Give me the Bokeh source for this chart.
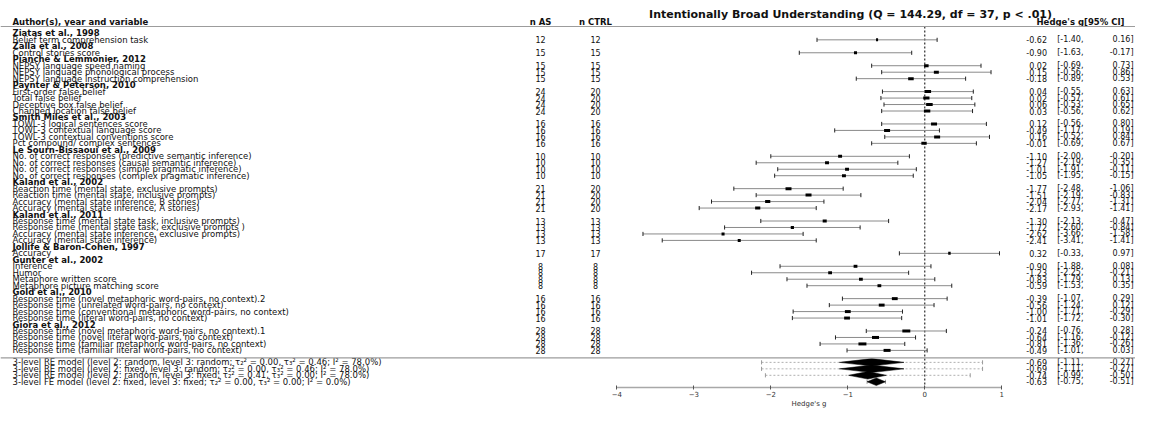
import math
from bokeh.plotting import figure
from bokeh.models import Range1d, FixedTicker, Span, ColumnDataSource
from bokeh.core.properties import value
from bokeh.embed import file_html
from bokeh.resources import INLINE

# ---------------- data ----------------
study_names = ["Ziatas et al., 1998", "Zalla et al., 2008", "Pianche & Lemmonier, 2012",
               "Paynter & Peterson, 2010", "Smith Miles et al., 2003",
               "Le Sourn-Bissaoui et al., 2009", "Kaland et al., 2002", "Kaland et al., 2011",
               "Jollife & Baron-Cohen, 1997", "Gunter et al., 2002", "Gold et al., 2010",
               "Giora et al., 2012"]
outcomes_per_study = [1, 1, 3, 4, 4, 4, 4, 4, 1, 4, 4, 4]

outcome_labels = [
    "Belief term comprehension task",
    "Control stories score",
    "NEPSY  language speed naming",
    "NEPSY  language phonological process",
    "NEPSY  language instruction comprehension",
    "First-order false belief",
    "Total false belief",
    "Deceptive box false belief",
    "Changed location false belief",
    "TOWL-3 logical sentences score",
    "TOWL-3 contextual language score",
    "TOWL-3 contextual conventions score",
    "Pct compound/ complex sentences",
    "No. of correct responses (predictive semantic inference)",
    "No. of correct responses (causal semantic inference)",
    "No. of correct responses (simple pragmatic inference)",
    "No. of correct responses (complex pragmatic inference)",
    "Reaction time (mental state, exclusive prompts)",
    "Reaction time (mental state, inclusive prompts)",
    "Accuracy (mental state inference, B stories)",
    "Accuracy (mental state inference, A stories)",
    "Response time (mental state task, inclusive prompts)",
    "Response time (mental state task, exclusive prompts )",
    "Accuracy (mental state inference, exclusive prompts)",
    "Accuracy (mental state inference)",
    "Accuracy",
    "Inference",
    "Humor",
    "Metaphore written score",
    "Metaphore picture matching score",
    "Response time (novel metaphoric word-pairs, no context).2",
    "Response time (unrelated word-pairs, no context)",
    "Response time (conventional metaphoric word-pairs, no context)",
    "Response time (literal word-pairs, no context)",
    "Response time (novel metaphoric word-pairs, no context).1",
    "Response time (novel literal word-pairs, no context)",
    "Response time (familiar metaphoric word-pairs, no context)",
    "Response time (familiar literal word-pairs, no context)",
]
n_as = [12, 15, 15, 15, 15, 24, 24, 24, 24, 16, 16, 16, 16, 10, 10, 10, 10,
        21, 21, 21, 21, 13, 13, 13, 13, 17, 8, 8, 8, 8, 16, 16, 16, 16, 28, 28, 28, 28]
n_ctrl = [12, 15, 15, 15, 15, 20, 20, 20, 20, 16, 16, 16, 16, 10, 10, 10, 10,
          20, 20, 20, 20, 13, 13, 13, 13, 17, 8, 8, 8, 8, 16, 16, 16, 16, 28, 28, 28, 28]
g_est = [-0.62, -0.90, 0.02, 0.15, -0.18, 0.04, 0.02, 0.06, 0.03, 0.12, -0.49, 0.16, -0.01,
         -1.10, -1.27, -1.01, -1.05, -1.77, -1.51, -2.04, -2.17, -1.30, -1.72, -2.62, -2.41,
         0.32, -0.90, -1.23, -0.83, -0.59, -0.39, -0.56, -1.00, -1.01, -0.24, -0.64, -0.81, -0.49]
ci_lo = [-1.40, -1.63, -0.69, -0.56, -0.89, -0.55, -0.57, -0.53, -0.56, -0.56, -1.17, -0.52, -0.69,
         -2.00, -2.19, -1.91, -1.95, -2.48, -2.19, -2.77, -2.93, -2.13, -2.60, -3.66, -3.41,
         -0.33, -1.88, -2.25, -1.79, -1.53, -1.07, -1.24, -1.71, -1.72, -0.76, -1.16, -1.36, -1.01]
ci_hi = [0.16, -0.17, 0.73, 0.86, 0.53, 0.63, 0.61, 0.65, 0.62, 0.80, 0.19, 0.84, 0.67,
         -0.20, -0.35, -0.11, -0.15, -1.06, -0.83, -1.31, -1.41, -0.47, -0.84, -1.58, -1.41,
         0.97, 0.08, -0.21, 0.13, 0.35, 0.29, 0.12, -0.29, -0.30, 0.28, -0.12, -0.26, 0.03]
weights = [0.4, 0.9, 2.0, 2.4, 3.0, 4.0, 3.8, 4.2, 4.0, 3.5, 3.5, 3.5, 2.8,
           1.5, 1.5, 1.5, 1.5, 3.5, 3.5, 2.6, 2.6, 1.6, 1.0, 0.9, 0.9,
           0.6, 1.4, 1.4, 1.4, 1.4, 3.3, 3.3, 3.3, 3.3, 6.2, 4.8, 6.2, 4.8]

model_labels = [
    "3-level RE model (level 2: random, level 3: random; \u03c4\u2082\u00b2 = 0.00, \u03c4\u2083\u00b2 = 0.46; I\u00b2 = 78.0%)",
    "3-level RE model (level 2: fixed, level 3: random; \u03c4\u2082\u00b2 = 0.00, \u03c4\u2083\u00b2 = 0.46; I\u00b2 = 78.0%)",
    "3-level RE model (level 2: random, level 3: fixed; \u03c4\u2082\u00b2 = 0.41, \u03c4\u2083\u00b2 = 0.00; I\u00b2 = 78.0%)",
    "3-level FE model (level 2: fixed, level 3: fixed; \u03c4\u2082\u00b2 = 0.00, \u03c4\u2083\u00b2 = 0.00; I\u00b2 = 0.0%)",
]
model_est = [-0.69, -0.69, -0.74, -0.63]
model_lo = [-1.11, -1.11, -0.99, -0.75]
model_hi = [-0.27, -0.27, -0.50, -0.51]
pi_lo = [-2.12, -2.12, -2.07, -0.75]
pi_hi = [0.75, 0.75, 0.59, -0.51]

title_text = "Intentionally Broad Understanding (Q = 144.29, df = 37, p < .01)"
x_ticks = [-4, -3, -2, -1, 0, 1]

# ---------------- layout helpers ----------------
FONT = "DejaVu Sans"
W, H = 1135, 408
ROW0, ROWH = 26.4, 6.47      # pixel y of row 0, row pitch
X0, XS = 924.3, 77.0         # pixel x of g = 0, pixels per unit
AXIS_Y = 387                 # pixel y of the x axis line
CAP = 0.32
RSHIFT = 17                  # right annotation block pulled in to fit the width


def gx(px):
    return (px - X0) / XS


def ky(py):
    return (py - ROW0) / ROWH


study_k, out_k = [], []
k = 1
for n in outcomes_per_study:
    study_k.append(k)
    k += 1
    for _ in range(n):
        out_k.append(k)
        k += 1
model_k = [k + 0.85 + i for i in range(len(model_labels))]
sep_k = k + 0.14

p = figure(width=W, height=H, output_backend="svg", toolbar_location=None,
           x_range=Range1d(gx(0), gx(W)),
           y_range=Range1d(ky(H), ky(0)),
           y_axis_location=None, min_border=0,
           min_border_left=0, min_border_right=0, min_border_top=0, min_border_bottom=0)
p.outline_line_color = None
p.xgrid.visible = False
p.ygrid.visible = False
p.background_fill_color = "white"
p.border_fill_color = "white"

ax = p.xaxis[0]
ax.fixed_location = ky(AXIS_Y)
ax.ticker = FixedTicker(ticks=x_ticks)
ax.bounds = (x_ticks[0], x_ticks[-1])
ax.axis_line_color = "#a8a8a8"
ax.axis_line_width = 1.5
ax.major_tick_line_color = "#555555"
ax.major_tick_in = 2
ax.major_tick_out = 2
ax.minor_tick_line_color = None
ax.major_label_text_font = FONT
ax.major_label_text_font_size = "7px"
ax.major_label_text_color = "#333333"
ax.major_label_standoff = 1
ax.axis_label = "Hedge's g"
ax.axis_label_text_font = FONT
ax.axis_label_text_font_size = "7px"
ax.axis_label_text_font_style = "normal"
ax.axis_label_text_color = "#333333"
ax.axis_label_standoff = 0

# separators and zero line
p.add_layout(Span(location=-0.06, dimension="width", line_color="#9c9c9c", line_width=1.2))
p.add_layout(Span(location=sep_k, dimension="width", line_color="#9c9c9c", line_width=1.2))
p.segment(x0=[0], y0=[-0.06], x1=[0], y1=[ky(AXIS_Y)], line_color="black",
          line_width=1, line_dash="2 2")

# study rows
src = ColumnDataSource(dict(y=out_k, est=g_est, lo=ci_lo, hi=ci_hi,
                            yb=[v - CAP for v in out_k], yt=[v + CAP for v in out_k],
                            bw=[3.2 * math.sqrt(w) for w in weights]))
p.segment(x0="lo", y0="y", x1="hi", y1="y", source=src, line_color="#8a8a8a", line_width=1)
p.segment(x0="lo", y0="yb", x1="lo", y1="yt", source=src, line_color="#222222", line_width=1)
p.segment(x0="hi", y0="yb", x1="hi", y1="yt", source=src, line_color="#222222", line_width=1)
p.rect(x="est", y="y", width="bw", height=3, width_units="screen", height_units="screen",
       source=src, fill_color="black", line_color=None)

# model rows: prediction intervals and diamonds
msrc = ColumnDataSource(dict(y=model_k, plo=pi_lo, phi=pi_hi,
                             yb=[v - CAP for v in model_k], yt=[v + CAP for v in model_k]))
p.segment(x0="plo", y0="y", x1="phi", y1="y", source=msrc, line_color="#b0b0b0",
          line_width=1, line_dash="2 2")
p.segment(x0="plo", y0="yb", x1="plo", y1="yt", source=msrc, line_color="#9a9a9a", line_width=1)
p.segment(x0="phi", y0="yb", x1="phi", y1="yt", source=msrc, line_color="#9a9a9a", line_width=1)
dh = 0.58
p.patches(xs=[[lo, e, hi, e] for lo, e, hi in zip(model_lo, model_est, model_hi)],
          ys=[[y, y - dh, y, y + dh] for y in model_k],
          fill_color="black", line_color="black", line_width=0.5)

# ---------------- texts ----------------
LBL = "8.5px"
common = dict(text_font=value(FONT), text_baseline="middle", text_color="#111111")
# title and header
p.text(x=[gx(850)], y=[ky(14)], text=[title_text], text_align="center",
       text_font_size="11px", text_font_style="bold", **common)
hy = ky(21)
p.text(x=[gx(12)], y=[hy], text=["Author(s), year and variable"], text_align="left",
       text_font_size=LBL, text_font_style="bold", **common)
p.text(x=[gx(540)], y=[hy], text=["n AS"], text_align="center",
       text_font_size=LBL, text_font_style="bold", **common)
p.text(x=[gx(595)], y=[hy], text=["n CTRL"], text_align="center",
       text_font_size=LBL, text_font_style="bold", **common)
p.text(x=[gx(1141 - RSHIFT)], y=[hy], text=["Hedge's g[95% CI]"], text_align="right",
       text_font_size=LBL, text_font_style="bold", **common)

# left column
p.text(x=gx(12), y=study_k, text=study_names, text_align="left",
       text_font_size=LBL, text_font_style="bold", **common)
p.text(x=gx(12), y=out_k, text=outcome_labels, text_align="left",
       text_font_size=LBL, **common)
p.text(x=gx(12), y=model_k, text=model_labels, text_align="left",
       text_font_size=LBL, **common)

# n columns
p.text(x=gx(540), y=out_k, text=[str(v) for v in n_as], text_align="center",
       text_font_size="8px", **common)
p.text(x=gx(595), y=out_k, text=[str(v) for v in n_ctrl], text_align="center",
       text_font_size="8px", **common)

# right annotation columns
all_k = out_k + model_k
all_e = g_est + model_est
all_lo = ci_lo + model_lo
all_hi = ci_hi + model_hi
p.text(x=gx(1063.5 - RSHIFT), y=all_k, text=[f"{v:.2f}" for v in all_e], text_align="right",
       text_font_size="8px", **common)
p.text(x=gx(1100 - RSHIFT), y=all_k, text=[f"[{v:.2f}," for v in all_lo], text_align="right",
       text_font_size="8px", **common)
p.text(x=gx(1150 - RSHIFT), y=all_k, text=[f"{v:.2f}]" for v in all_hi], text_align="right",
       text_font_size="8px", **common)

open("out.html", "w").write(file_html(p, INLINE))
